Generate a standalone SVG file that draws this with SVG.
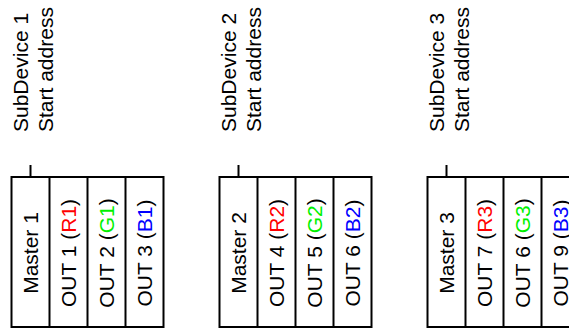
<svg xmlns="http://www.w3.org/2000/svg" width="569" height="329" viewBox="0 0 569 329">
<style>
.t{font-family:"Liberation Sans",Arial,sans-serif;font-size:21px;fill:#000}
.c{text-anchor:middle}
.box{fill:#fff;stroke:#000;stroke-width:2}
.ln{stroke:#000;stroke-width:2;fill:none}
.r{fill:#ff0000}.g{fill:#00f000}.b{fill:#0000ff}
</style>
<rect width="569" height="329" fill="#fff"/>
<g id="sub1" transform="translate(11.5,0)">
  <text class="t" transform="translate(16.5,132) rotate(-90)">SubDevice 1</text>
  <text class="t" transform="translate(41.5,132) rotate(-90)">Start address</text>
  <rect class="box" x="0" y="177" width="152" height="150"/>
  <line class="ln" x1="38" y1="177" x2="38" y2="327"/>
  <line class="ln" x1="76" y1="177" x2="76" y2="327"/>
  <line class="ln" x1="114" y1="177" x2="114" y2="327"/>
  <text class="t c" transform="translate(26.5,253) rotate(-90)">Master 1</text>
  <text class="t c" transform="translate(64.5,253) rotate(-90)">OUT 1 (<tspan class="r">R1</tspan>)</text>
  <text class="t c" transform="translate(102.5,253) rotate(-90)">OUT 2 (<tspan class="g">G1</tspan>)</text>
  <text class="t c" transform="translate(140.5,253) rotate(-90)">OUT 3 (<tspan class="b">B1</tspan>)</text>
</g>
<g id="sub2" transform="translate(219.5,0)">
  <text class="t" transform="translate(16.5,132) rotate(-90)">SubDevice 2</text>
  <text class="t" transform="translate(41.5,132) rotate(-90)">Start address</text>
  <rect class="box" x="0" y="177" width="152" height="150"/>
  <line class="ln" x1="38" y1="177" x2="38" y2="327"/>
  <line class="ln" x1="76" y1="177" x2="76" y2="327"/>
  <line class="ln" x1="114" y1="177" x2="114" y2="327"/>
  <text class="t c" transform="translate(26.5,253) rotate(-90)">Master 2</text>
  <text class="t c" transform="translate(64.5,253) rotate(-90)">OUT 4 (<tspan class="r">R2</tspan>)</text>
  <text class="t c" transform="translate(102.5,253) rotate(-90)">OUT 5 (<tspan class="g">G2</tspan>)</text>
  <text class="t c" transform="translate(140.5,253) rotate(-90)">OUT 6 (<tspan class="b">B2</tspan>)</text>
</g>
<g id="sub3" transform="translate(427.5,0)">
  <text class="t" transform="translate(16.5,132) rotate(-90)">SubDevice 3</text>
  <text class="t" transform="translate(41.5,132) rotate(-90)">Start address</text>
  <rect class="box" x="0" y="177" width="152" height="150"/>
  <line class="ln" x1="38" y1="177" x2="38" y2="327"/>
  <line class="ln" x1="76" y1="177" x2="76" y2="327"/>
  <line class="ln" x1="114" y1="177" x2="114" y2="327"/>
  <text class="t c" transform="translate(26.5,253) rotate(-90)">Master 3</text>
  <text class="t c" transform="translate(64.5,253) rotate(-90)">OUT 7 (<tspan class="r">R3</tspan>)</text>
  <text class="t c" transform="translate(102.5,253) rotate(-90)">OUT 6 (<tspan class="g">G3</tspan>)</text>
  <text class="t c" transform="translate(140.5,253) rotate(-90)">OUT 9 (<tspan class="b">B3</tspan>)</text>
</g>
<g id="connectors">
  <line class="ln" x1="30.5" y1="165" x2="30.5" y2="177"/>
  <line class="ln" x1="238.5" y1="165" x2="238.5" y2="177"/>
  <line class="ln" x1="446.5" y1="165" x2="446.5" y2="177"/>
</g>
</svg>
